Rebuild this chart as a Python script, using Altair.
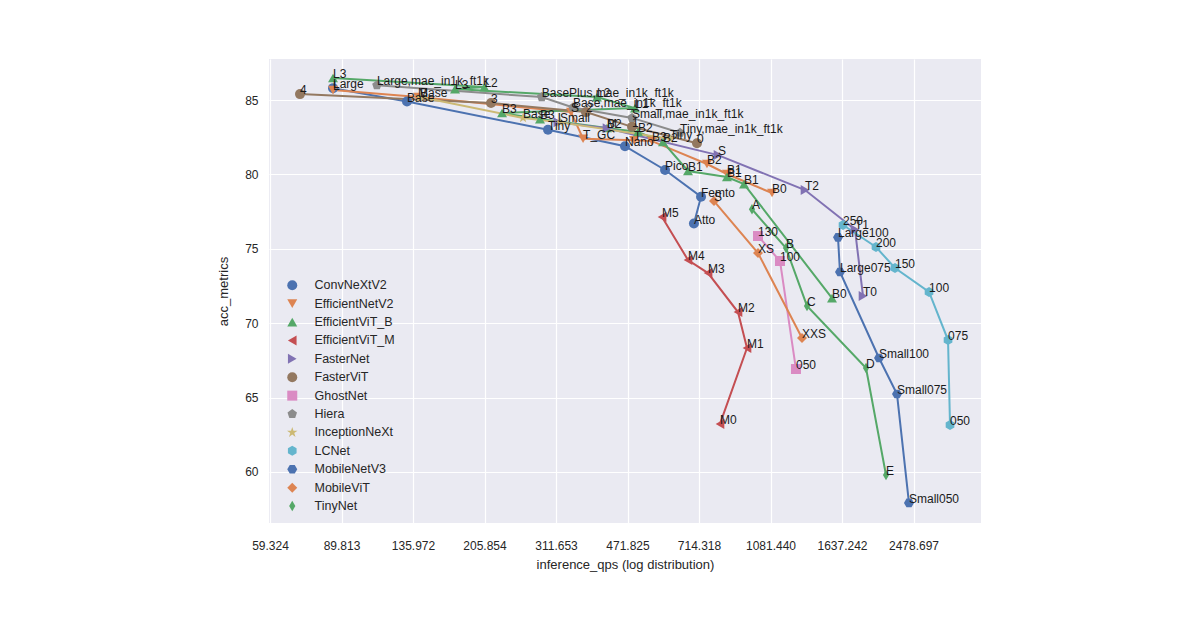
import altair as alt
import pandas as pd

# ---- benchmark results: inference throughput (img/s) vs top-1 accuracy ----
families = ["ConvNeXtV2", "EfficientNetV2", "EfficientViT_B", "EfficientViT_M",
            "FasterNet", "FasterViT", "GhostNet", "Hiera", "InceptionNeXt",
            "LCNet", "MobileNetV3", "MobileViT", "TinyNet"]

convnextv2_names = ["Large", "Base", "Tiny", "Nano", "Pico", "Femto", "Atto"]
convnextv2_qps = [85.5, 131.3, 297.5, 465.0, 586.6, 722.7, 693.6]
convnextv2_acc = [85.8, 84.9, 83.0, 81.9, 80.3, 78.5, 76.7]

efficientnetv2_names = ["L", "M", "S", "T_GC", "T", "B3", "B2", "B1", "B0"]
efficientnetv2_qps = [85.5, 140.0, 340.0, 364.6, 490.0, 544.0, 748.0, 840.0, 1091.0]
efficientnetv2_acc = [85.67, 85.2, 84.19, 82.4, 82.3, 82.24, 80.7, 80.03, 78.75]

efficientvit_b_names = ["L3", "L2", "L3", "L2", "L1", "B3", "B3", "B2", "B2", "B2",
                        "B1", "B1", "B1", "B0"]
efficientvit_b_qps = [85.5, 205.7, 173.5, 395.3, 492.8, 227.9, 284.0, 418.9, 501.4,
                      579.6, 670.1, 840.0, 927.4, 1544.8]
efficientvit_b_acc = [86.48, 85.87, 85.74, 85.2, 84.46, 84.13, 83.72, 83.12, 82.85,
                      82.18, 80.23, 79.83, 79.35, 71.69]

efficientvit_m_names = ["M5", "M4", "M3", "M2", "M1", "M0"]
efficientvit_m_qps = [576.4, 670.1, 752.6, 895.4, 943.5, 806.8]
efficientvit_m_acc = [77.14, 74.25, 73.37, 70.75, 68.33, 63.23]

fasternet_names = ["L", "M", "S", "T2", "T1", "T0"]
fasternet_qps = [315.0, 418.9, 797.5, 1321.0, 1765.0, 1849.0]
fasternet_acc = [83.5, 83.1, 81.3, 78.95, 76.3, 71.83]

fastervit_names = ["4", "3", "2", "1", "0"]
fastervit_qps = [70.6, 213.8, 370.8, 484.3, 706.0]
fastervit_acc = [85.4, 84.8, 84.19, 83.2, 82.1]

ghostnet_names = ["130", "100", "050"]
ghostnet_qps = [1005.7, 1142.6, 1253.4]
ghostnet_acc = [75.86, 74.18, 66.92]

hiera_names = ["Large,mae_in1k_ft1k", "BasePlus,mae_in1k_ft1k", "Base,mae_in1k_ft1k",
               "Small,mae_in1k_ft1k", "Tiny,mae_in1k_ft1k"]
hiera_qps = [110.3, 286.9, 343.9, 484.3, 639.8]
hiera_acc = [86.0, 85.2, 84.5, 83.8, 82.8]

inceptionnext_names = ["Base", "Base", "Small", "Tiny"]
inceptionnext_qps = [141.6, 257.4, 319.0, 603.5]
inceptionnext_acc = [85.2, 83.8, 83.5, 82.4]

lcnet_names = ["250", "200", "150", "100", "075", "050"]
lcnet_qps = [1646.8, 1993.8, 2226.0, 2712.0, 3028.0, 3063.0]
lcnet_acc = [76.6, 75.12, 73.71, 72.1, 68.87, 63.16]

mobilenetv3_names = ["Large100", "Large075", "Small100", "Small075", "Small050"]
mobilenetv3_qps = [1599.5, 1618.0, 2029.0, 2252.0, 2414.0]
mobilenetv3_acc = [75.77, 73.44, 67.66, 65.24, 57.92]

mobilevit_names = ["S", "XS", "XXS"]
mobilevit_qps = [779.3, 1005.7, 1298.0]
mobilevit_acc = [78.21, 74.72, 69.0]

tinynet_names = ["A", "B", "C", "D", "E"]
tinynet_qps = [971.3, 1183.2, 1336.3, 1881.7, 2113.0]
tinynet_acc = [77.66, 75.05, 71.16, 66.99, 59.8]

x_ticks = [59.324, 89.813, 135.972, 205.854, 311.653, 471.825, 714.318,
           1081.440, 1637.242, 2478.697]

palette = ["#4C72B0", "#DD8452", "#55A868", "#C44E52", "#8172B3", "#937860",
           "#DA8BC3", "#8C8C8C", "#CCB974", "#64B5CD", "#4C72B0", "#DD8452", "#55A868"]

pentagon = "M0,-1L0.951,-0.309L0.588,0.809L-0.588,0.809L-0.951,-0.309Z"
star = ("M0,-1.1L0.247,-0.34L1.046,-0.34L0.4,0.13L0.647,0.89L0,0.42L-0.647,0.89"
        "L-0.4,0.13L-1.046,-0.34L-0.247,-0.34Z")
hex_pointy = "M0,-1L0.866,-0.5L0.866,0.5L0,1L-0.866,0.5L-0.866,-0.5Z"
hex_flat = "M1,0L0.5,0.866L-0.5,0.866L-1,0L-0.5,-0.866L0.5,-0.866Z"
thin_diamond = "M0,-1.05L0.62,0L0,1.05L-0.62,0Z"
shapes = ["circle", "triangle-down", "triangle-up", "triangle-left", "triangle-right",
          "circle", "square", pentagon, star, hex_pointy, hex_flat, "diamond", thin_diamond]

series = [
    (convnextv2_names, convnextv2_qps, convnextv2_acc),
    (efficientnetv2_names, efficientnetv2_qps, efficientnetv2_acc),
    (efficientvit_b_names, efficientvit_b_qps, efficientvit_b_acc),
    (efficientvit_m_names, efficientvit_m_qps, efficientvit_m_acc),
    (fasternet_names, fasternet_qps, fasternet_acc),
    (fastervit_names, fastervit_qps, fastervit_acc),
    (ghostnet_names, ghostnet_qps, ghostnet_acc),
    (hiera_names, hiera_qps, hiera_acc),
    (inceptionnext_names, inceptionnext_qps, inceptionnext_acc),
    (lcnet_names, lcnet_qps, lcnet_acc),
    (mobilenetv3_names, mobilenetv3_qps, mobilenetv3_acc),
    (mobilevit_names, mobilevit_qps, mobilevit_acc),
    (tinynet_names, tinynet_qps, tinynet_acc),
]

rows = []
for fam, (names, qps, acc) in zip(families, series):
    for i, (n, q, a) in enumerate(zip(names, qps, acc)):
        rows.append({"model": fam, "label": n, "qps": q, "acc": a, "seq": i})
df = pd.DataFrame(rows)

FONT = "Liberation Sans"

x_enc = alt.X("qps:Q",
              scale=alt.Scale(type="log", domain=[58.98, 3666], nice=False, zero=False),
              axis=alt.Axis(values=x_ticks, format=".3f",
                            title="inference_qps (log distribution)"))
y_enc = alt.Y("acc:Q",
              scale=alt.Scale(domain=[56.57, 87.76], nice=False, zero=False),
              axis=alt.Axis(values=[60, 65, 70, 75, 80, 85], title="acc_metrics"))

base = alt.Chart(df)

# one connecting line per model family, each in its family colour
line_layers = [
    base.transform_filter(alt.datum.model == fam)
    .mark_line(strokeWidth=2, color=col)
    .encode(x=x_enc, y=y_enc, order=alt.Order("seq:Q"))
    for fam, col in zip(families, palette)
]

points = base.mark_point(filled=True, size=100, opacity=1, strokeWidth=0).encode(
    x=x_enc, y=y_enc,
    color=alt.Color("model:N", scale=alt.Scale(domain=families, range=palette),
                    title=None),
    shape=alt.Shape("model:N", scale=alt.Scale(domain=families, range=shapes),
                    title=None),
)

labels = base.mark_text(align="left", baseline="alphabetic", fontSize=12,
                        font=FONT, color="#1a1a1a").encode(
    x=x_enc, y=y_enc, text="label:N",
)

chart = alt.layer(*line_layers, points, labels).properties(
    width=712, height=464,
    autosize=alt.AutoSizeParams(type="none"),
    padding={"left": 269, "top": 59, "right": 219, "bottom": 107},
    background="white",
).configure_view(
    fill="#EAEAF2", stroke=None,
).configure_axis(
    grid=True, gridColor="white", gridWidth=1.2, domain=False, ticks=False, tickSize=0,
    labelFont=FONT, labelFontSize=12, labelColor="#262626",
    titleFont=FONT, titleFontSize=13, titleColor="#262626", titleFontWeight="normal",
).configure_axisX(
    labelPadding=17, titlePadding=7,
).configure_axisY(
    labelPadding=11, titlePadding=14,
).configure_legend(
    orient="bottom-left", offset=10,
    labelFont=FONT, labelFontSize=12.5, labelColor="#262626",
    symbolSize=100, symbolStrokeWidth=0, rowPadding=5.4, labelOffset=16,
    symbolOffset=7, symbolOpacity=1,
)

chart.save("out.html", embed_options={"renderer": "svg", "actions": False})
